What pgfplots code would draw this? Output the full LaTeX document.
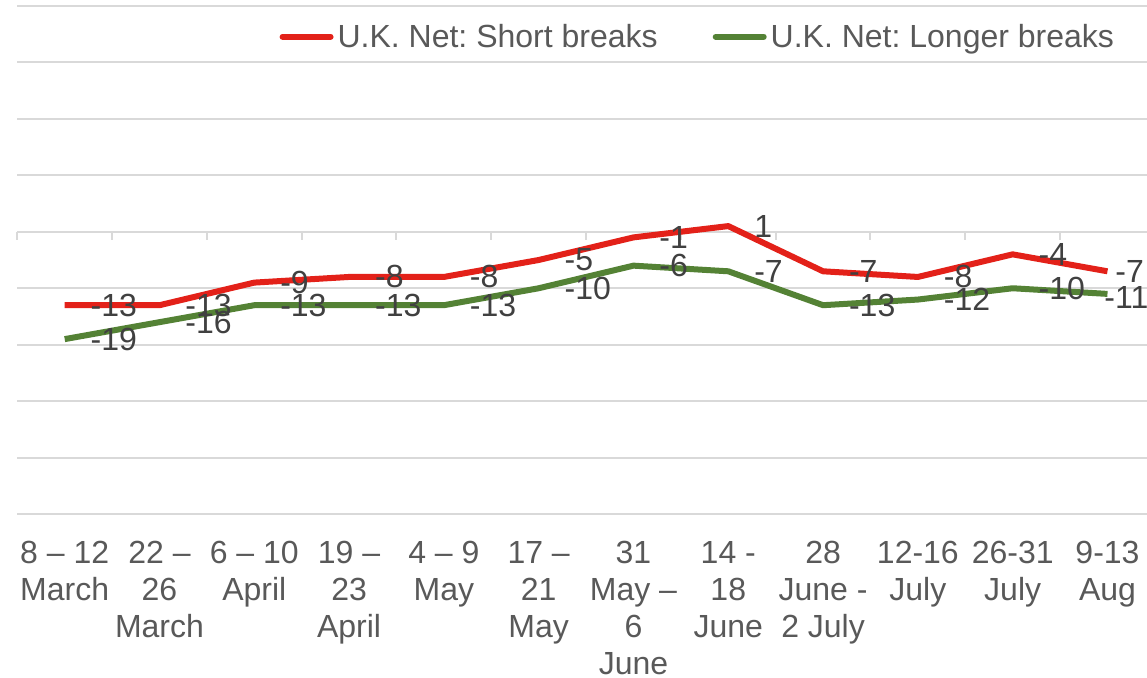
\documentclass[border=0pt]{standalone}
\usepackage{fontspec}
\setmainfont{Liberation Sans}
\usepackage{pgfplots}
\usepackage{pgfplotstable}
\pgfplotsset{compat=1.18}
\definecolor{cred}{HTML}{E32119}
\definecolor{cgreen}{HTML}{548235}
\definecolor{cgrid}{HTML}{D9D9D9}
\definecolor{ctext}{HTML}{595959}
\definecolor{clabel}{HTML}{404040}
\frenchspacing

\pgfplotstableread{
x short longer
0 -13 -19
1 -13 -16
2 -9 -13
3 -8 -13
4 -8 -13
5 -5 -10
6 -1 -6
7 1 -7
8 -7 -13
9 -8 -12
10 -4 -10
11 -7 -11
}\datatable

\begin{document}
\begin{tikzpicture}
\path[use as bounding box] (-17.3pt,-162.7pt) rectangle (1129.7pt,514.3pt);
\begin{axis}[
  at={(0,0)}, anchor=south west,
  scale only axis, width=1129.7pt, height=508.6pt,
  xmin=-0.5, xmax=11.417, ymin=-50, ymax=40,
  axis line style={draw=none},
  tick style={draw=none},
  ytick={-50,-40,...,40}, yticklabels={},
  ymajorgrids, major grid style={cgrid, line width=2pt},
  xtick={0,...,11},
  xticklabels={{8 – 12\\March},{22 –\\26\\March},{6 – 10\\April},{19 –\\23\\April},{4 – 9\\May},{17 –\\21\\May},{31\\May –\\6\\June},{14 -\\18\\June},{28\\June -\\2 July},{12-16\\July},{26-31\\July},{9-13\\Aug}},
  xticklabel style={align=center, anchor=north, inner sep=0pt, yshift=-27pt, text=ctext, font=\fontsize{32}{37}\selectfont},
  clip=false,
  legend style={at={(0.9745,0.939)}, anchor=east, draw=none, fill=none,
    font=\fontsize{32}{37}\selectfont, text=ctext, inner sep=0pt,
    nodes={inner xsep=4pt, inner ysep=0pt},
    /tikz/every even column/.append style={column sep=51pt}},
  legend columns=2,
  legend image code/.code={\draw[line width=6pt, line cap=round] (0pt,0pt) -- (48pt,0pt);},
  point meta=explicit symbolic,
  nodes near coords,
  every node near coord/.append style={anchor=west, inner sep=0pt, xshift=23pt, font=\fontsize{32}{37}\selectfont, text=clabel},
]
\pgfplotsinvokeforeach{-0.5,0.5,1.5,2.5,3.5,4.5,5.5,6.5,7.5,8.5,9.5,10.5}{
  \draw[cgrid, line width=2pt] (axis cs:#1,0) -- ([yshift=-8.5pt]axis cs:#1,0);
}
\addplot[cred, line width=6pt, line join=round, mark=none,
  coordinate style/.condition={x>10.5}{xshift=-18pt}]
  table[x=x, y=short, meta=short] {\datatable};
\addlegendentry{U.K. Net: Short breaks}
\addplot[cgreen, line width=6pt, line join=round, mark=none,
  coordinate style/.condition={x>10.5}{xshift=-29pt, yshift=-4pt}]
  table[x=x, y=longer, meta=longer] {\datatable};
\addlegendentry{U.K. Net: Longer breaks}
\end{axis}
\end{tikzpicture}
\end{document}
